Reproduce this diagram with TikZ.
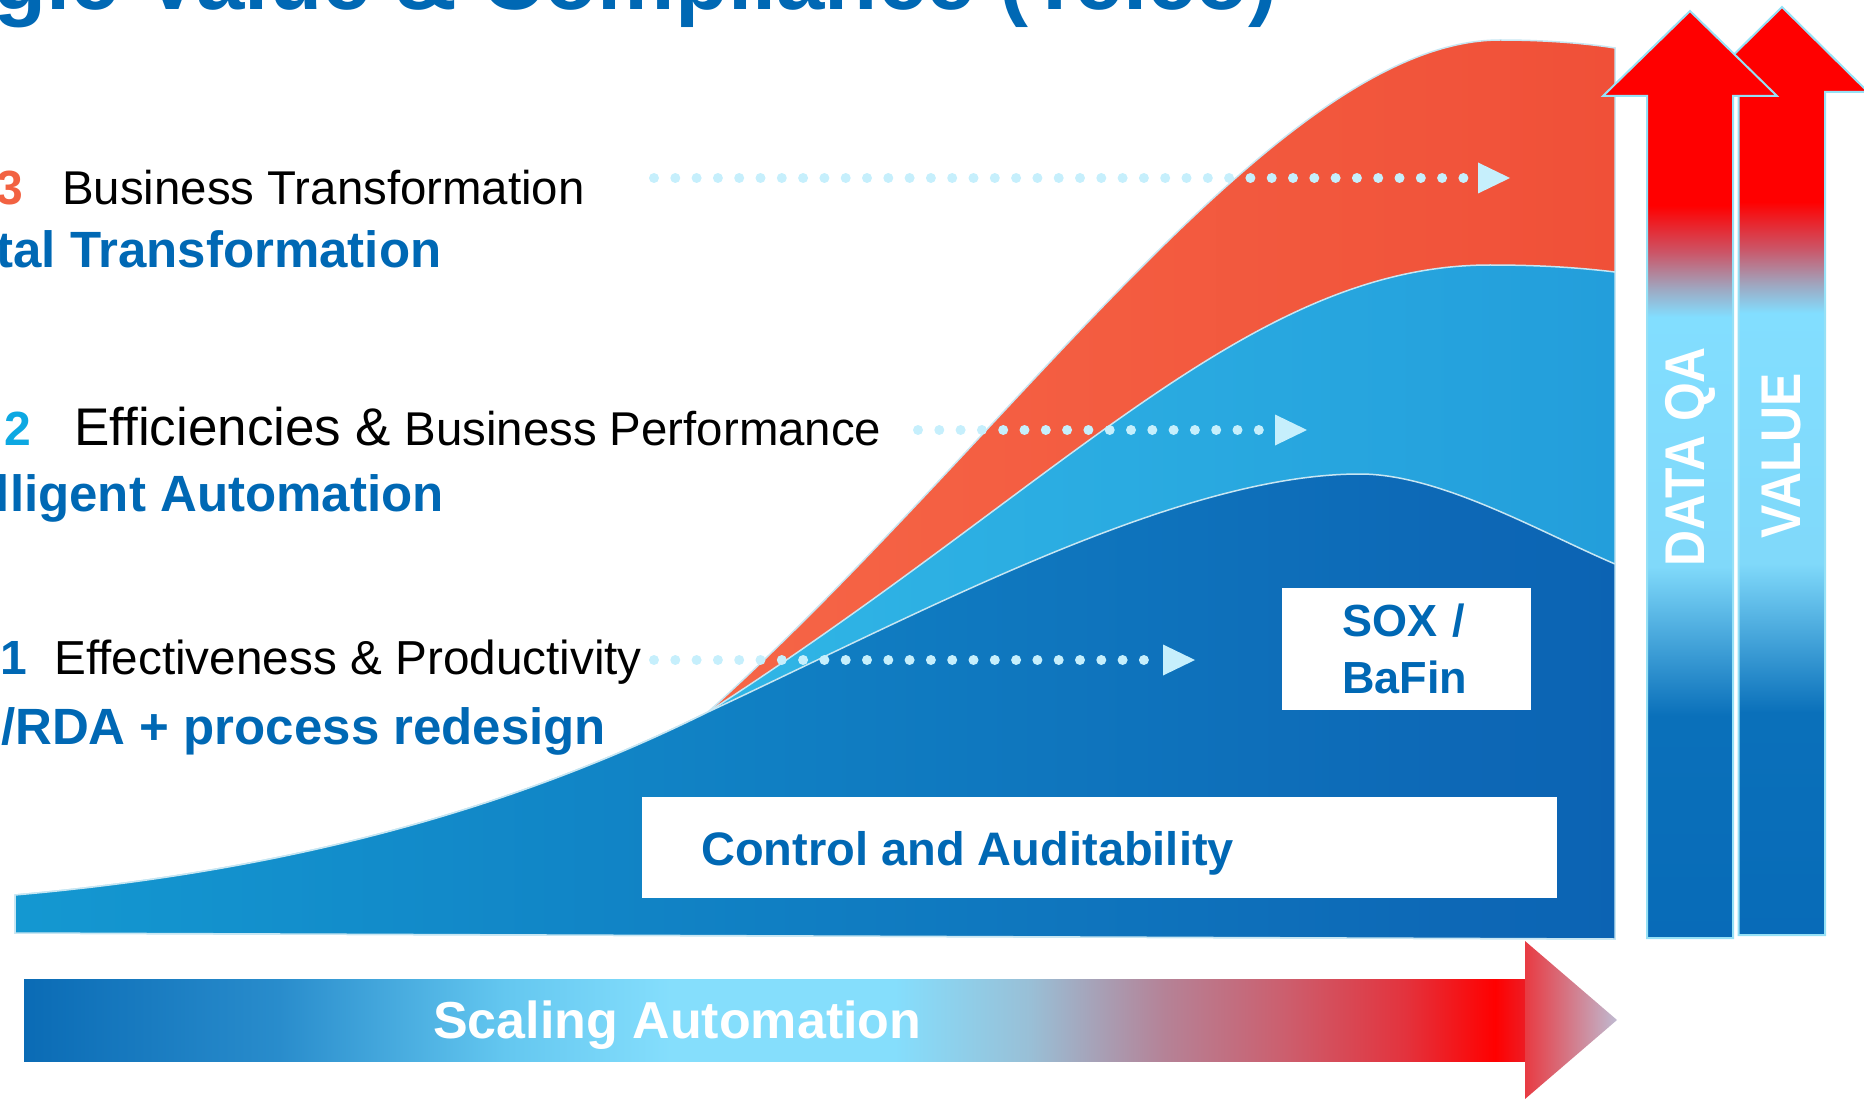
\documentclass[tikz,border=0pt]{standalone}
\usepackage{fontspec}
\setmainfont{Liberation Sans}
\newfontfamily\arrowfont[FakeStretch=0.89]{Liberation Sans}
\usetikzlibrary{arrows.meta}

\definecolor{deepblue}{RGB}{0,104,180}
\definecolor{numorange}{RGB}{242,98,66}
\definecolor{numcyan}{RGB}{13,168,226}
\definecolor{dotblue}{RGB}{198,239,252}
\definecolor{edgeblue}{RGB}{200,230,242}
\definecolor{arrowedge}{RGB}{150,225,246}
\definecolor{orangeL}{RGB}{250,118,82}
\definecolor{orangeR}{RGB}{240,80,56}
\definecolor{skyL}{RGB}{58,200,238}
\definecolor{skyR}{RGB}{35,158,219}
\definecolor{navyL}{RGB}{20,152,209}
\definecolor{navyR}{RGB}{12,99,179}

% shadings: the path box is mapped onto 25bp..75bp
\pgfdeclarehorizontalshading{scalebar}{100bp}{rgb(0bp)=(0.04,0.42,0.71); rgb(25bp)=(0.04,0.42,0.71); rgb(33.5bp)=(0.16,0.55,0.8); rgb(41bp)=(0.39,0.78,0.94); rgb(46.5bp)=(0.52,0.87,0.99); rgb(54bp)=(0.52,0.87,0.99); rgb(58.5bp)=(0.6,0.75,0.84); rgb(63bp)=(0.71,0.51,0.59); rgb(67bp)=(0.8,0.37,0.43); rgb(71bp)=(0.89,0.2,0.24); rgb(74bp)=(1,0,0); rgb(75bp)=(0.93,0.11,0.14); rgb(100bp)=(0.93,0.11,0.14)}
\pgfdeclarehorizontalshading{scalehead}{100bp}{rgb(0bp)=(0.91,0.23,0.26); rgb(25bp)=(0.91,0.23,0.26); rgb(75bp)=(0.75,0.73,0.82); rgb(100bp)=(0.75,0.73,0.82)}
\pgfdeclareverticalshading{riseshade}{100bp}{rgb(0bp)=(0.03,0.42,0.72); rgb(25bp)=(0.03,0.42,0.72); rgb(37bp)=(0.04,0.44,0.73); rgb(45bp)=(0.5,0.85,0.98); rgb(58.5bp)=(0.51,0.87,1); rgb(60bp)=(0.62,0.66,0.76); rgb(62bp)=(0.8,0.33,0.4); rgb(64.5bp)=(1,0,0); rgb(75bp)=(1,0,0); rgb(100bp)=(1,0,0)}

\newcommand{\risebase}{(15,895) .. controls (300,870) and (520,805) .. (708,712)}

\tikzstyle{layer} = [draw=edgeblue, line width=1.5pt]
\tikzstyle{whitebox} = [rectangle, fill=white, inner sep=0pt]
\tikzstyle{stepnum} = [anchor=base west, inner sep=0pt, font=\bfseries\fontsize{48}{56}\selectfont]
\tikzstyle{steptext} = [anchor=base west, inner sep=0pt, font=\fontsize{47.4}{56}\selectfont]
\tikzstyle{levelname} = [anchor=base west, inner sep=0pt, text=deepblue, font=\bfseries\fontsize{51}{60}\selectfont]
\tikzstyle{boxtext} = [inner sep=0pt, text=deepblue, font=\bfseries\fontsize{47}{57.5}\selectfont]
\tikzstyle{dotrow} = [dotblue, line width=10pt, line cap=round, dash pattern=on 0pt off 21.3pt, -{Triangle[length=32pt,width=31pt,line width=0pt]}]
\tikzstyle{risearrow} = [draw=arrowedge, line width=2pt, shading=riseshade]
\tikzstyle{arrowlabel} = [rotate=90, inner sep=0pt, text=white, font=\arrowfont\bfseries\fontsize{56}{60}\selectfont]

\begin{document}
\begin{tikzpicture}[x=1pt, y=-1pt]
\useasboundingbox (0,0) rectangle (1864,1099);
\clip (0,0) rectangle (1864,1099);

% growth layers
\shadedraw[layer, left color=orangeL, right color=orangeR] \risebase .. controls (1008,442) and (1280,40) .. (1500,40) .. controls (1550,40) and (1590,44) .. (1615,48) -- (1615,939) -- (15,933) -- cycle;
\shadedraw[layer, left color=skyL, right color=skyR] \risebase .. controls (1065,482) and (1250,265) .. (1490,265) .. controls (1550,265) and (1590,269) .. (1615,272) -- (1615,939) -- (15,933) -- cycle;
\shadedraw[layer, left color=navyL, right color=navyR] \risebase .. controls (930,608) and (1180,474) .. (1360,474) .. controls (1440,474) and (1540,532) .. (1615,564) -- (1615,939) -- (15,933) -- cycle;

% boxes
\node[whitebox, minimum width=249pt, minimum height=122pt, text width=129pt, align=left, font=\bfseries\fontsize{45}{57.5}\selectfont, text=deepblue] (sox) at (1406.5,649) {SOX /\\BaFin};
\node[whitebox, minimum width=915pt, minimum height=101pt] (ctrl) at (1099.5,847.5) {};
\node[boxtext, anchor=base west] (ctrltext) at (701,865) {Control and Auditability};

% title
\node[anchor=base east, inner sep=0pt, text=deepblue, font=\bfseries\fontsize{87}{96}\selectfont] (title) at (1278,10) {Strategic Value \& Compliance (Telco)};

% steps
\node[stepnum, text=numorange] (n3) at (-4,205) {3};
\node[steptext] (t3) at (62,205) {Business Transformation};
\node[levelname] (l3) at (-100,268) {Digital Transformation};
\node[stepnum, text=numcyan] (n2) at (4,445) {2};
\node[steptext] (t2) at (74,445) {{\fontsize{53}{60}\selectfont Efficiencies \&} Business Performance};
\node[levelname] (l2) at (-95,511) {Intelligent Automation};
\node[stepnum, text=deepblue] (n1) at (0,674) {1};
\node[steptext, font=\fontsize{47.7}{56}\selectfont] (t1) at (54,674) {Effectiveness \& Productivity};
\node[levelname] (l1) at (-103,744) {RPA/RDA + process redesign};

% dotted pointers
\coordinate (d3s) at (654,178);
\coordinate (d3e) at (1510,178);
\coordinate (d2s) at (918,430);
\coordinate (d2e) at (1307,430);
\coordinate (d1s) at (654,660);
\coordinate (d1e) at (1195,660);
\draw[dotrow] (d3s) -- (d3e);
\draw[dotrow] (d2s) -- (d2e);
\draw[dotrow] (d1s) -- (d1e);

% scaling arrow
\shade[shading=scalebar] (24,979) rectangle (1525,1061);
\shade[shading=scalehead] (1525,941) -- (1617,1020) -- (1525,1099) -- cycle;
\node[anchor=base west, inner sep=0pt, text=white, font=\bfseries\fontsize{52}{60}\selectfont] (scaling) at (433,1038) {Scaling Automation};

% rising arrows
\shadedraw[risearrow] (1738.5,935) -- (1738.5,92) -- (1696,92) -- (1782,7) -- (1868,92) -- (1825,92) -- (1825,935) -- cycle;
\shadedraw[risearrow] (1647,938) -- (1647,96) -- (1603,96) -- (1690,11) -- (1777,96) -- (1733,96) -- (1733,938) -- cycle;
\node[arrowlabel] (dataqa) at (1690,457) {DATA QA};
\node[arrowlabel] (value) at (1781.5,455.5) {VALUE};
\end{tikzpicture}
\end{document}
